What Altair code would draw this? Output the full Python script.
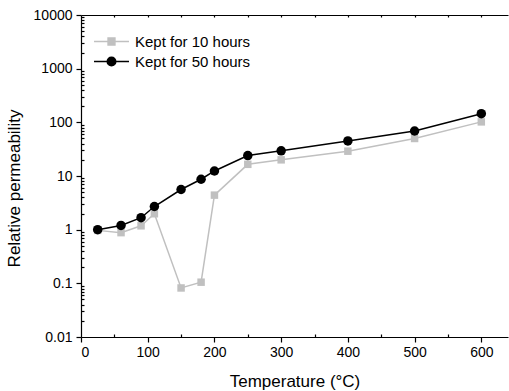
import altair as alt
import pandas as pd

temps = [25, 60, 90, 110, 150, 180, 200, 250, 300, 400, 500, 600]
kept10 = [0.97, 0.88, 1.18, 1.98, 0.082, 0.105, 4.4, 16.5, 20, 29, 50, 102]
kept50 = [1.0, 1.2, 1.67, 2.7, 5.6, 8.7, 12.4, 24, 29.5, 45, 69, 145]
s10 = "Kept for 10 hours"
s50 = "Kept for 50 hours"
series_names = [s10, s50]
series_colors = ["#c0c0c0", "#000000"]

x_major = [0, 100, 200, 300, 400, 500, 600]
x_minor = [50, 150, 250, 350, 450, 550, 650]
x_top = [50, 100, 150, 200, 250, 300, 350, 400, 450, 500, 550, 600]
y_major = [0.01, 0.1, 1, 10, 100, 1000, 10000]
y_minor = [m * d for d in [0.01, 0.1, 1, 10, 100, 1000] for m in range(2, 10)]

df = pd.DataFrame({
    "temp": temps * 2,
    "value": kept10 + kept50,
    "series": [s10] * len(temps) + [s50] * len(temps),
})

FONT = "Liberation Sans"
W, H = 427, 322

xs = alt.Scale(domain=[0, 640], nice=False, zero=False)
ys = alt.Scale(type="log", domain=[0.01, 10000], nice=False)

base = alt.Chart(df)

def xenc(axis=None):
    return alt.X("temp:Q", scale=xs, axis=axis)

def yenc(axis=None):
    return alt.Y("value:Q", scale=ys, axis=axis)

d10 = base.transform_filter(alt.datum.series == s10)
d50 = base.transform_filter(alt.datum.series == s50)

line10 = d10.mark_line(color=series_colors[0], strokeWidth=1.5).encode(x=xenc(), y=yenc())
line50 = d50.mark_line(color=series_colors[1], strokeWidth=1.5).encode(x=xenc(), y=yenc())
pts10 = d10.mark_point(shape="square", filled=True, opacity=1, size=56,
                       color=series_colors[0]).encode(x=xenc(), y=yenc())
pts50 = d50.mark_point(shape="circle", filled=True, opacity=1, size=90,
                       color=series_colors[1]).encode(x=xenc(), y=yenc())

sq_path = "M-1.84,0H1.84M-0.36,-0.36H0.36V0.36H-0.36Z"
ci_path = "M-0.45,0A0.45,0.45 0 1,0 0.45,0A0.45,0.45 0 1,0 -0.45,0ZM-1.84,0H1.84"

legend = alt.Legend(
    title=None, orient="none", legendX=20, legendY=16,
    symbolSize=361, labelFont=FONT, labelFontSize=15, labelColor="#000",
    labelOffset=13, rowPadding=1, symbolStrokeWidth=1.5, symbolOpacity=1,
)
cscale = alt.Scale(domain=series_names, range=series_colors)
legend_layer = base.mark_point(opacity=0, strokeWidth=1.5).encode(
    x=xenc(), y=yenc(),
    fill=alt.Fill("series:N", scale=cscale, legend=legend),
    stroke=alt.Stroke("series:N", scale=cscale, legend=legend),
    shape=alt.Shape("series:N", scale=alt.Scale(domain=series_names, range=[sq_path, ci_path]), legend=legend),
)

ax_common = dict(labelFont=FONT, titleFont=FONT, domainColor="#000", tickColor="#000",
                 labelColor="#000", titleColor="#000", grid=False, domainWidth=1.2, tickWidth=1.2)

x_main_axis = alt.Axis(orient="bottom", values=x_major, format="d", tickSize=5, labelFontSize=14,
                       labelPadding=3, title="Temperature (°C)", titleFontSize=17, titleFontWeight="normal",
                       titleBaseline="alphabetic", titleY=49, **ax_common)
x_minor_axis = alt.Axis(orient="bottom", values=x_minor, offset=-3, tickSize=3, labels=False,
                        domain=False, title=None, **ax_common)
x_top_axis = alt.Axis(orient="bottom", values=x_top, offset=-H, tickSize=2, labels=False,
                      domain=True, title=None, **ax_common)
y_main_axis = alt.Axis(orient="left", values=y_major, format="~g", tickSize=5, labelFontSize=14,
                       labelPadding=4, title="Relative permeability", titleFontSize=17,
                       titleFontWeight="normal", titleX=-67, titleY=173, titleAngle=-90,
                       titleAlign="center", titleBaseline="middle", **ax_common)
y_minor_axis = alt.Axis(orient="left", values=y_minor, offset=-3, tickSize=3, labels=False,
                        domain=False, title=None, **ax_common)

ax_layer = base.mark_point(opacity=0)
axis1 = ax_layer.encode(x=xenc(x_main_axis), y=yenc(y_main_axis))
axis2 = ax_layer.encode(x=xenc(x_minor_axis), y=yenc(y_minor_axis))
axis3 = ax_layer.encode(x=xenc(x_top_axis), y=yenc())

chart = alt.layer(axis1, axis2, axis3, legend_layer, line10, line50, pts10, pts50).resolve_axis(
    x="independent", y="independent"
).properties(
    width=W, height=H,
    autosize=alt.AutoSizeParams(type="none"),
    padding={"left": 81, "top": 15, "right": 1, "bottom": 54},
    background="white",
).configure_view(stroke=None)

chart.save("out.html", embed_options={"renderer": "svg", "actions": False})
